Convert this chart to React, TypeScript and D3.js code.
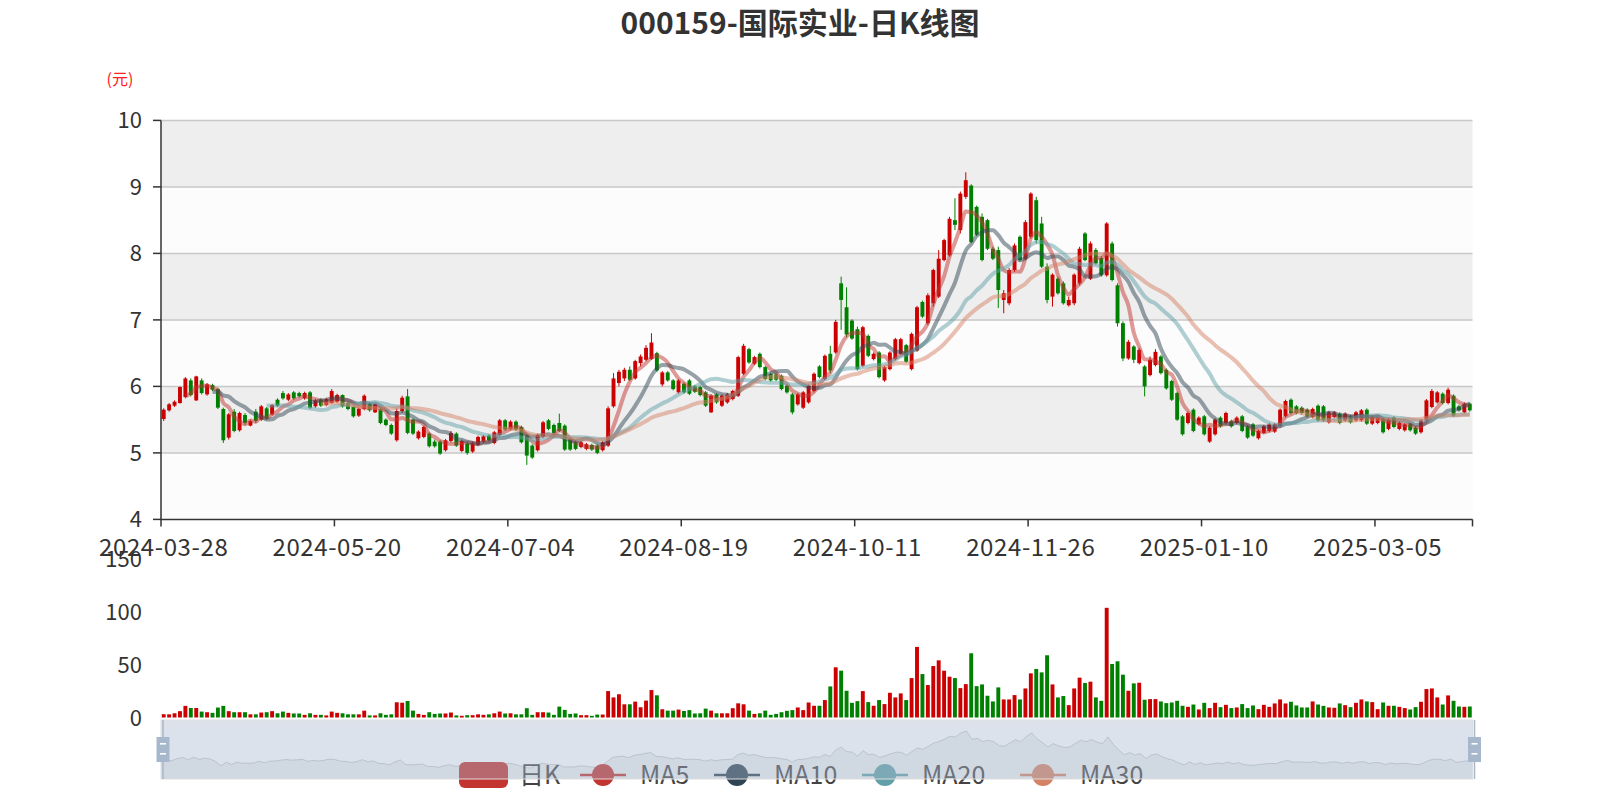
import * as d3 from 'd3';
import { useMemo } from 'react';

type Candle = [number, number, number, number]; // open, close, low, high

const TITLE = '000159-国际实业-日K线图';
const UNIT_NAME = '(元)';
const FIRST_DAY = '2024-03-28';
// exchange holidays falling on weekdays inside the period
const HOLIDAYS = [
  '2024-04-04', '2024-04-05', '2024-05-01', '2024-05-02', '2024-05-03', '2024-06-10',
  '2024-09-16', '2024-09-17', '2024-10-01', '2024-10-02', '2024-10-03', '2024-10-04',
  '2024-10-07', '2025-01-01', '2025-01-28', '2025-01-29', '2025-01-30', '2025-01-31',
  '2025-02-03', '2025-02-04',
];

const CANDLES: Candle[] = [
  [5.51, 5.65, 5.48, 5.67], [5.64, 5.73, 5.62, 5.75], [5.71, 5.77, 5.69, 5.79], [5.75, 5.99, 5.74, 6.0], [5.84, 6.12, 5.82, 6.14],
  [6.09, 5.87, 5.85, 6.12], [5.79, 6.15, 5.78, 6.16], [6.09, 5.9, 5.88, 6.12], [5.88, 6.03, 5.86, 6.05], [6.02, 5.95, 5.93, 6.04],
  [5.96, 5.68, 5.66, 5.98], [5.66, 5.19, 5.15, 5.68], [5.23, 5.58, 5.2, 5.6], [5.62, 5.33, 5.31, 5.66], [5.34, 5.6, 5.32, 5.62],
  [5.57, 5.45, 5.42, 5.6], [5.41, 5.48, 5.4, 5.5], [5.62, 5.48, 5.45, 5.66], [5.5, 5.7, 5.48, 5.72], [5.67, 5.52, 5.5, 5.69],
  [5.58, 5.72, 5.56, 5.73], [5.8, 5.71, 5.69, 5.82], [5.9, 5.82, 5.8, 5.93], [5.8, 5.88, 5.78, 5.9], [5.91, 5.82, 5.8, 5.93],
  [5.9, 5.85, 5.83, 5.92], [5.82, 5.9, 5.8, 5.92], [5.91, 5.68, 5.66, 5.93], [5.7, 5.79, 5.68, 5.81], [5.8, 5.71, 5.69, 5.82],
  [5.72, 5.81, 5.7, 5.83], [5.75, 5.93, 5.74, 5.96], [5.77, 5.87, 5.75, 5.89], [5.87, 5.7, 5.68, 5.88], [5.75, 5.66, 5.64, 5.77],
  [5.69, 5.55, 5.53, 5.7], [5.56, 5.66, 5.54, 5.68], [5.66, 5.86, 5.64, 5.88], [5.74, 5.64, 5.62, 5.76], [5.61, 5.73, 5.6, 5.74],
  [5.66, 5.45, 5.43, 5.68], [5.5, 5.42, 5.4, 5.52], [5.42, 5.29, 5.27, 5.44], [5.19, 5.63, 5.17, 5.67], [5.63, 5.83, 5.6, 5.86],
  [5.85, 5.3, 5.28, 5.96], [5.5, 5.29, 5.27, 5.52], [5.22, 5.32, 5.2, 5.34], [5.24, 5.39, 5.22, 5.41], [5.29, 5.1, 5.08, 5.31],
  [5.17, 5.1, 5.08, 5.2], [5.17, 4.99, 4.97, 5.19], [5.04, 5.19, 5.02, 5.21], [5.18, 5.3, 5.16, 5.33], [5.29, 5.11, 5.09, 5.31],
  [5.03, 5.18, 5.01, 5.2], [5.14, 5.0, 4.97, 5.16], [5.02, 5.15, 5.0, 5.17], [5.12, 5.24, 5.1, 5.26], [5.17, 5.25, 5.15, 5.27],
  [5.26, 5.19, 5.17, 5.28], [5.15, 5.31, 5.13, 5.33], [5.27, 5.49, 5.25, 5.51], [5.49, 5.35, 5.33, 5.51], [5.36, 5.47, 5.34, 5.49],
  [5.47, 5.35, 5.33, 5.49], [5.39, 5.16, 5.14, 5.41], [5.26, 4.96, 4.82, 5.28], [5.11, 4.93, 4.91, 5.13], [5.04, 5.27, 5.02, 5.29],
  [5.24, 5.46, 5.22, 5.48], [5.49, 5.36, 5.34, 5.51], [5.42, 5.3, 5.28, 5.44], [5.45, 5.33, 5.31, 5.59], [5.41, 5.05, 5.03, 5.43],
  [5.21, 5.05, 5.03, 5.23], [5.16, 5.06, 5.04, 5.18], [5.09, 5.16, 5.07, 5.18], [5.06, 5.13, 5.04, 5.15], [5.12, 5.05, 5.03, 5.14],
  [5.11, 5.0, 4.98, 5.13], [5.04, 5.16, 5.02, 5.18], [5.11, 5.67, 5.09, 5.7], [5.7, 6.12, 5.68, 6.2], [6.05, 6.22, 6.0, 6.25],
  [6.12, 6.25, 6.08, 6.28], [6.25, 6.1, 6.08, 6.3], [6.12, 6.38, 6.1, 6.4], [6.35, 6.45, 6.3, 6.48], [6.4, 6.58, 6.38, 6.62],
  [6.41, 6.66, 6.4, 6.8], [6.5, 6.24, 6.22, 6.52], [6.03, 6.21, 6.0, 6.23], [6.21, 6.09, 6.07, 6.23], [6.09, 5.96, 5.94, 6.11],
  [5.91, 6.09, 5.89, 6.11], [6.04, 5.91, 5.89, 6.06], [6.09, 5.89, 5.87, 6.11], [6.0, 5.92, 5.9, 6.02], [5.99, 5.87, 5.85, 6.01],
  [5.91, 5.71, 5.69, 5.93], [5.61, 5.86, 5.6, 5.88], [5.88, 5.76, 5.74, 5.9], [5.71, 5.86, 5.69, 5.88], [5.76, 5.88, 5.74, 5.9],
  [5.81, 5.93, 5.79, 5.95], [5.86, 6.44, 5.84, 6.46], [6.19, 6.61, 6.17, 6.64], [6.56, 6.36, 6.34, 6.58], [6.34, 6.44, 6.32, 6.46],
  [6.49, 6.29, 6.27, 6.51], [6.29, 6.11, 6.09, 6.31], [6.19, 6.09, 6.07, 6.21], [6.18, 6.1, 6.08, 6.2], [6.16, 5.96, 5.94, 6.18],
  [6.01, 5.91, 5.89, 6.03], [5.88, 5.61, 5.58, 5.9], [5.73, 5.88, 5.71, 5.9], [5.68, 5.91, 5.66, 5.93], [5.76, 6.01, 5.74, 6.03],
  [5.93, 6.19, 5.91, 6.21], [6.3, 6.14, 6.12, 6.32], [6.11, 6.46, 6.09, 6.48], [6.49, 6.24, 6.2, 6.61], [6.51, 6.97, 6.49, 7.0],
  [7.55, 7.3, 6.85, 7.65], [7.19, 6.78, 6.74, 7.49], [6.99, 6.72, 6.7, 7.01], [6.86, 6.26, 6.24, 6.9], [6.31, 6.89, 6.29, 6.91],
  [6.76, 6.46, 6.44, 6.78], [6.41, 6.49, 6.39, 6.51], [6.51, 6.14, 6.12, 6.53], [6.09, 6.29, 6.07, 6.31], [6.26, 6.51, 6.24, 6.53],
  [6.41, 6.71, 6.39, 6.73], [6.49, 6.71, 6.47, 6.73], [6.62, 6.37, 6.35, 6.64], [6.26, 6.79, 6.24, 6.81], [6.54, 7.19, 6.52, 7.21],
  [7.27, 7.05, 7.03, 7.29], [6.95, 7.37, 6.92, 7.4], [7.25, 7.75, 7.2, 7.77], [7.35, 7.92, 7.33, 8.05], [7.9, 8.2, 7.88, 8.22],
  [7.97, 8.52, 7.95, 8.55], [8.5, 8.43, 8.35, 8.83], [8.35, 8.9, 8.3, 8.93], [8.85, 9.1, 8.82, 9.22], [9.02, 8.17, 8.15, 9.04],
  [8.7, 8.28, 8.26, 8.72], [8.55, 7.9, 7.88, 8.6], [8.5, 8.07, 8.05, 8.52], [8.07, 7.92, 7.9, 8.1], [8.05, 7.45, 7.18, 8.1],
  [7.3, 7.4, 7.1, 7.45], [7.25, 7.75, 7.22, 7.78], [7.75, 8.12, 7.72, 8.15], [8.25, 7.9, 7.88, 8.27], [7.92, 8.47, 7.9, 8.5],
  [8.25, 8.9, 8.22, 8.92], [8.8, 8.2, 8.15, 8.85], [8.45, 7.8, 7.78, 8.55], [7.8, 7.3, 7.25, 7.85], [7.35, 7.68, 7.2, 7.7],
  [7.62, 7.4, 7.38, 7.65], [7.55, 7.25, 7.23, 7.58], [7.22, 7.3, 7.2, 7.35], [7.25, 7.68, 7.22, 7.7], [7.55, 8.07, 7.52, 8.1],
  [8.3, 7.9, 7.88, 8.32], [7.62, 8.15, 7.6, 8.18], [8.05, 7.85, 7.83, 8.08], [7.93, 7.67, 7.65, 7.96], [7.67, 8.45, 7.65, 8.47],
  [8.15, 7.6, 7.58, 8.18], [7.52, 6.95, 6.9, 7.55], [6.95, 6.42, 6.38, 6.98], [6.42, 6.67, 6.4, 6.7], [6.6, 6.4, 6.35, 6.62],
  [6.35, 6.55, 6.33, 6.58], [6.3, 6.0, 5.85, 6.32], [6.17, 6.4, 6.15, 6.45], [6.32, 6.52, 6.3, 6.56], [6.45, 6.2, 6.18, 6.47],
  [6.25, 5.97, 5.95, 6.27], [6.08, 5.8, 5.78, 6.1], [5.9, 5.5, 5.48, 5.92], [5.55, 5.28, 5.26, 5.57], [5.45, 5.6, 5.43, 5.62],
  [5.65, 5.33, 5.31, 5.67], [5.43, 5.53, 5.41, 5.55], [5.55, 5.28, 5.26, 5.57], [5.17, 5.38, 5.15, 5.4], [5.28, 5.5, 5.26, 5.52],
  [5.53, 5.4, 5.38, 5.55], [5.45, 5.6, 5.43, 5.62], [5.48, 5.4, 5.38, 5.5], [5.45, 5.53, 5.43, 5.55], [5.55, 5.33, 5.31, 5.57],
  [5.4, 5.23, 5.21, 5.42], [5.43, 5.26, 5.24, 5.45], [5.22, 5.33, 5.2, 5.35], [5.3, 5.4, 5.28, 5.42], [5.33, 5.43, 5.31, 5.45],
  [5.32, 5.43, 5.3, 5.45], [5.4, 5.65, 5.38, 5.67], [5.55, 5.78, 5.53, 5.8], [5.8, 5.6, 5.58, 5.82], [5.7, 5.6, 5.58, 5.72],
  [5.68, 5.6, 5.58, 5.7], [5.65, 5.55, 5.53, 5.67], [5.54, 5.66, 5.52, 5.68], [5.71, 5.49, 5.47, 5.73], [5.7, 5.49, 5.47, 5.72],
  [5.46, 5.61, 5.44, 5.63], [5.54, 5.61, 5.52, 5.63], [5.59, 5.45, 5.43, 5.61], [5.49, 5.59, 5.47, 5.61], [5.55, 5.46, 5.44, 5.57],
  [5.49, 5.61, 5.47, 5.63], [5.49, 5.64, 5.47, 5.66], [5.65, 5.44, 5.42, 5.67], [5.44, 5.54, 5.42, 5.56], [5.45, 5.52, 5.43, 5.54],
  [5.51, 5.31, 5.29, 5.53], [5.36, 5.5, 5.34, 5.52], [5.53, 5.39, 5.37, 5.55], [5.36, 5.45, 5.34, 5.47], [5.34, 5.43, 5.32, 5.45],
  [5.43, 5.34, 5.32, 5.45], [5.38, 5.29, 5.27, 5.4], [5.31, 5.49, 5.29, 5.51], [5.49, 5.79, 5.47, 5.81], [5.69, 5.93, 5.67, 5.96],
  [5.76, 5.91, 5.74, 5.93], [5.89, 5.75, 5.73, 5.91], [5.75, 5.95, 5.73, 5.98], [5.86, 5.56, 5.54, 5.88], [5.7, 5.64, 5.62, 5.72],
  [5.61, 5.74, 5.59, 5.76], [5.74, 5.64, 5.62, 5.76],
];

// 成交量 (万手)
const VOLUMES = [
  3.1, 3, 4, 6, 11, 9, 9, 5.6, 5, 4.4,
  9.4, 11, 6, 5, 5, 5, 3, 3, 4.7, 5,
  6, 4, 5.6, 4.4, 3.8, 3.8, 2.5, 4, 2.5, 2.5,
  2, 5.6, 4.4, 4, 3, 3, 3, 6.5, 2, 2,
  4, 2.5, 3, 14.4, 14, 15.6, 6.5, 3.4, 2.5, 5,
  3.4, 3.8, 3.8, 4.7, 2, 1.6, 2.2, 2.2, 3, 2.5,
  3, 4, 5.6, 3.8, 4, 3, 3, 8.8, 2.5, 5,
  5, 4.7, 2.5, 10.3, 7.2, 3.4, 3.8, 2.2, 2.2, 1.6,
  2.8, 2.8, 25, 19, 22, 12.5, 12.5, 15, 9.7, 16,
  26, 21, 7.8, 6.5, 6.5, 7.5, 6.2, 7, 3.8, 4,
  8.4, 6.5, 4, 4, 4, 8.8, 13.4, 12.5, 6.5, 3.4,
  4, 6.5, 2.5, 3.4, 5, 6.3, 7, 9.5, 7, 14.2,
  11.1, 11.1, 16.5, 29.4, 47.5, 44.3, 25.3, 13.9, 15.5, 25,
  14.6, 11.1, 16.5, 12.7, 23.4, 19, 22.8, 16.5, 37.3, 66.8,
  41.1, 30.7, 48.7, 54.1, 44.3, 38.6, 37.3, 27.8, 31.6, 60.8,
  29.7, 31.3, 20.6, 15.2, 28.5, 17.1, 17.1, 21.2, 17.1, 27.5,
  41.8, 45.9, 42.7, 58.9, 31.3, 19, 20.3, 11.7, 27.5, 37.7,
  32.6, 33.9, 19, 15.8, 103.8, 50.6, 53.2, 40.5, 25.3, 32.3,
  32.9, 16.8, 17.4, 17.4, 15.2, 13.6, 14.2, 15.8, 11.1, 10.1,
  12.3, 7.6, 13.9, 8.9, 13.9, 9.8, 12, 8.9, 9.5, 12.7,
  8.9, 11.4, 7.9, 12, 10.1, 13.3, 17.1, 13.3, 14.9, 11.4,
  9.5, 9.5, 15.2, 12.3, 11, 9.5, 9.2, 13.3, 11.7, 9.8,
  13.9, 17.1, 15.2, 14.6, 7.9, 14.2, 11.1, 11.1, 10.1, 8.9,
  7.6, 9.8, 14.9, 26.9, 27.5, 19, 12.3, 20.9, 15.8, 10.4,
  10.1, 10.4,
];

const PRICE_TICKS = [4, 5, 6, 7, 8, 9, 10];
const VOLUME_TICKS = [0, 50, 100, 150];
const LABEL_INTERVAL = 32;
const MA_WINDOWS = [5, 10, 20, 30];
const MA_COLORS = ['#c23531', '#2f4554', '#61a0a8', '#d48265'];
const LEGEND_NAMES = ['日K', 'MA5', 'MA10', 'MA20', 'MA30'];

const UP_COLOR = '#cc0000';
const DOWN_COLOR = '#008000';
const FONT = '"Noto Sans CJK SC", "Noto Sans", sans-serif';

const WIDTH = 1600;
const HEIGHT = 800;
const PLOT = { left: 161, right: 1472.5, top: 120.4, bottom: 519.4 };
const VOL = { top: 559, bottom: 717.5 };
const SLIDER = { top: 720, bottom: 779 };
const LEGEND_Y = 775;
const LEGEND_ICON_X = [459, 580, 714, 862, 1020];

const tradingDays = (first: string, count: number, holidays: string[]) => {
  const closed = new Set(holidays);
  const out: string[] = [];
  const t = new Date(first + 'T00:00:00Z');
  while (out.length < count) {
    const key = t.toISOString().slice(0, 10);
    const dow = t.getUTCDay();
    if (dow !== 0 && dow !== 6 && !closed.has(key)) out.push(key);
    t.setUTCDate(t.getUTCDate() + 1);
  }
  return out;
};

const movingAverage = (values: number[], n: number) =>
  values.map((_, i) => (i < n - 1 ? null : (d3.sum(values.slice(i - n + 1, i + 1)) as number) / n));

export default function App() {
  const n = CANDLES.length;
  const dates = useMemo(() => tradingDays(FIRST_DAY, n, HOLIDAYS), [n]);
  const closes = CANDLES.map((d) => d[1]);

  const x = d3.scaleBand<number>().domain(d3.range(n)).range([PLOT.left, PLOT.right]);
  const bw = x.bandwidth();
  const cx = (i: number) => (x(i) as number) + bw / 2;
  const bodyW = bw * 0.72;

  const yPrice = d3.scaleLinear().domain([4, 10]).range([PLOT.bottom, PLOT.top]);
  const yVol = d3.scaleLinear().domain([0, 150]).range([VOL.bottom, VOL.top]);

  const maLines = MA_WINDOWS.map((w) => {
    const values = movingAverage(closes, w);
    const line = d3
      .line<number | null>()
      .defined((v) => v !== null)
      .x((_, i) => cx(i))
      .y((v) => yPrice(v as number))
      .curve(d3.curveMonotoneX);
    return line(values) || '';
  });

  // slider data shadow (ECharts pads the value extent by 30% on both sides)
  const xs = d3.scaleLinear().domain([0, n - 1]).range([PLOT.left, PLOT.right]);
  const [lo, hi] = d3.extent(closes) as [number, number];
  const pad = (hi - lo) * 0.3;
  const ys = d3.scaleLinear().domain([lo - pad, hi + pad]).range([SLIDER.bottom, SLIDER.top]);
  const shadowArea = d3.area<number>().x((_, i) => xs(i)).y0(SLIDER.bottom).y1((v) => ys(v))(closes) || '';
  const shadowLine = d3.line<number>().x((_, i) => xs(i)).y((v) => ys(v))(closes) || '';

  const bands = d3.range(PRICE_TICKS.length - 1);
  const labelIdx = d3.range(0, n, LABEL_INTERVAL);

  return (
    <svg
      width={WIDTH}
      height={HEIGHT}
      style={{ position: 'absolute', left: 0, top: 0, background: '#fff' }}
      fontFamily={FONT}
    >
      <text x={800} y={34} textAnchor="middle" fontSize={30} fontWeight="bold" fill="#333">
        {TITLE}
      </text>

      {/* split areas and split lines */}
      {bands.map((b) => (
        <rect
          key={b}
          x={PLOT.left}
          width={PLOT.right - PLOT.left}
          y={yPrice(PRICE_TICKS[b + 1])}
          height={yPrice(PRICE_TICKS[b]) - yPrice(PRICE_TICKS[b + 1])}
          fill={b % 2 === 0 ? '#fcfcfc' : '#eeeeee'}
        />
      ))}
      {PRICE_TICKS.slice(1).map((t) => (
        <line key={t} x1={PLOT.left} x2={PLOT.right} y1={yPrice(t)} y2={yPrice(t)} stroke="#c8c8c8" strokeWidth={1.5} />
      ))}

      {/* candles */}
      {CANDLES.map(([o, c, l, h], i) => {
        const color = c >= o ? UP_COLOR : DOWN_COLOR;
        const top = yPrice(Math.max(o, c));
        const bottom = yPrice(Math.min(o, c));
        return (
          <g key={i}>
            <line x1={cx(i)} x2={cx(i)} y1={yPrice(h)} y2={yPrice(l)} stroke={color} strokeWidth={1} />
            <rect x={cx(i) - bodyW / 2} y={top} width={bodyW} height={Math.max(bottom - top, 1)} fill={color} />
          </g>
        );
      })}

      {/* moving averages */}
      {maLines.map((d, k) => (
        <path key={k} d={d} fill="none" stroke={MA_COLORS[k]} strokeOpacity={0.5} strokeWidth={4} />
      ))}

      {/* price axes */}
      <line x1={PLOT.left} x2={PLOT.left} y1={PLOT.top} y2={PLOT.bottom} stroke="#333" strokeWidth={1.5} />
      <line x1={PLOT.left} x2={PLOT.right} y1={PLOT.bottom} y2={PLOT.bottom} stroke="#333" strokeWidth={1.5} />
      {PRICE_TICKS.map((t) => (
        <g key={t}>
          <line x1={PLOT.left - 8} x2={PLOT.left} y1={yPrice(t)} y2={yPrice(t)} stroke="#333" strokeWidth={1.5} />
          <text x={PLOT.left - 19} y={yPrice(t) + 8} textAnchor="end" fontSize={22} fill="#333">
            {t}
          </text>
        </g>
      ))}
      <text x={120} y={85} textAnchor="middle" fontSize={16} fill="#ff2020">
        {UNIT_NAME}
      </text>
      {[...labelIdx, n].map((i) => {
        const tx = i < n ? (x(i) as number) : PLOT.right;
        return <line key={i} x1={tx} x2={tx} y1={PLOT.bottom} y2={PLOT.bottom + 7} stroke="#333" strokeWidth={1.5} />;
      })}
      {labelIdx.map((i) => (
        <text key={i} x={cx(i)} y={556} textAnchor="middle" fontSize={24} letterSpacing={0.6} fill="#333">
          {dates[i]}
        </text>
      ))}

      {/* volume */}
      {VOLUMES.map((v, i) => {
        const [o, c] = CANDLES[i];
        return (
          <rect
            key={i}
            x={cx(i) - bodyW / 2}
            y={yVol(v)}
            width={bodyW}
            height={VOL.bottom - yVol(v)}
            fill={c >= o ? UP_COLOR : DOWN_COLOR}
          />
        );
      })}
      {VOLUME_TICKS.map((t) => (
        <text key={t} x={PLOT.left - 19} y={yVol(t) + 8} textAnchor="end" fontSize={22} fill="#333">
          {t}
        </text>
      ))}

      {/* data zoom slider */}
      <rect x={PLOT.left} y={SLIDER.top} width={PLOT.right - PLOT.left} height={SLIDER.bottom - SLIDER.top} fill="#fff" />
      <path d={shadowArea} fill="rgba(47,69,84,0.09)" />
      <path d={shadowLine} fill="none" stroke="#2f4554" strokeOpacity={0.3} strokeWidth={0.8} />

      {/* legend (drawn under the slider filler, as in the source chart) */}
      {LEGEND_NAMES.map((name, k) => {
        const ix = LEGEND_ICON_X[k];
        const color = k === 0 ? '#c23531' : MA_COLORS[k - 1];
        return (
          <g key={name}>
            {k === 0 ? (
              <rect x={ix} y={LEGEND_Y - 13} width={49} height={26} rx={6} fill={color} />
            ) : (
              <>
                <line x1={ix} x2={ix + 46} y1={LEGEND_Y} y2={LEGEND_Y} stroke={color} strokeWidth={2.5} />
                <circle cx={ix + 23} cy={LEGEND_Y} r={11} fill={color} />
              </>
            )}
            <text x={ix + 60} y={LEGEND_Y + 9} fontSize={25} fill="#444">
              {name}
            </text>
          </g>
        );
      })}

      <rect
        x={PLOT.left}
        y={SLIDER.top}
        width={PLOT.right - PLOT.left}
        height={SLIDER.bottom - SLIDER.top}
        fill="rgba(167,183,204,0.4)"
        stroke="#ddd"
      />
      {[PLOT.left, PLOT.right].map((hx, k) => (
        <g key={k}>
          <line x1={hx + 2} x2={hx + 2} y1={SLIDER.top} y2={SLIDER.bottom} stroke="#a7b7cc" strokeWidth={1.5} />
          <rect x={hx - 4.5} y={737} width={13} height={25} fill="#a7b7cc" />
          <rect x={hx - 1} y={743} width={6} height={1.6} fill="#fff" />
          <rect x={hx - 1} y={753} width={6} height={1.6} fill="#fff" />
        </g>
      ))}
    </svg>
  );
}
